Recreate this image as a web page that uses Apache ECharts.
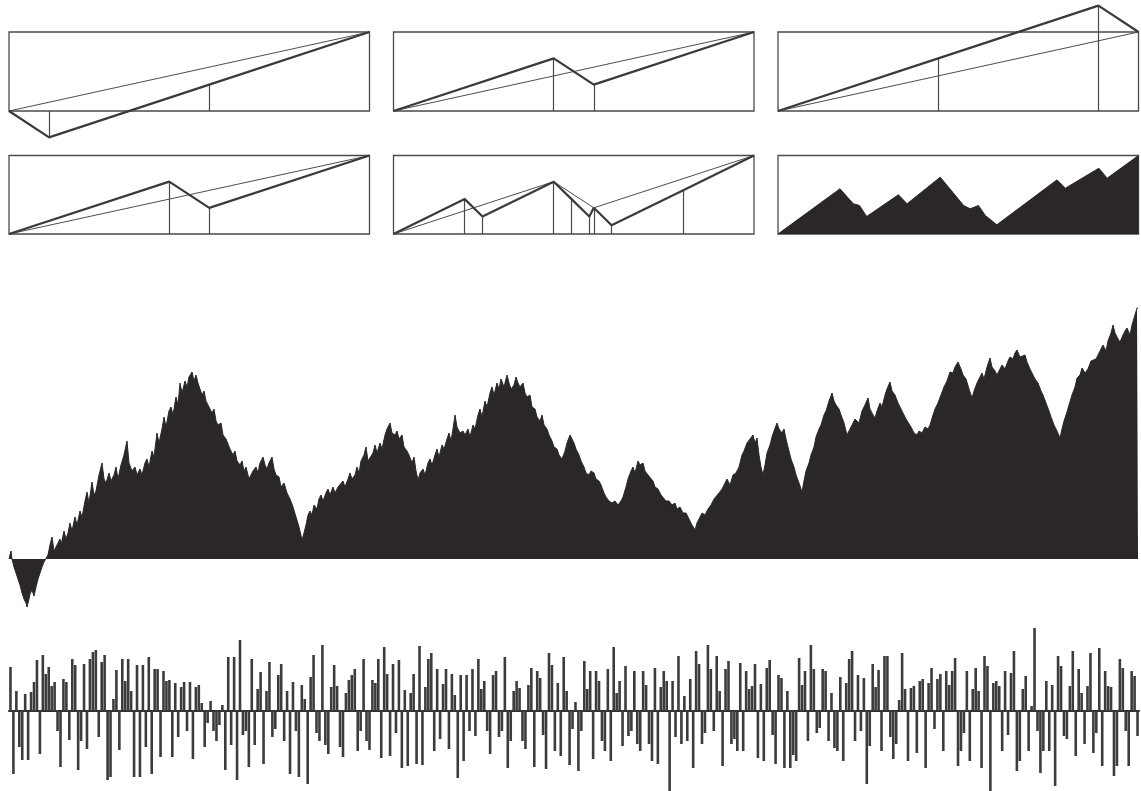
<!DOCTYPE html>
<html>
<head>
<meta charset="utf-8">
<script src="https://cdn.jsdelivr.net/npm/echarts@6/dist/echarts.min.js"></script>
<style>
html, body { margin: 0; padding: 0; background: #ffffff; }
#chart { width: 1141px; height: 791px; }
</style>
</head>
<body>
<div id="chart"></div>
<script>
// Brownian "cartoon" construction: each stage is a polyline [time, value],
// time and value as fractions of the panel box (0..1).
const initiator = [[0, 0], [1, 1]];
const generatorDownFirst = [[0, 0], [1/9, -1/3], [5/9, 1/3], [1, 1]];
const generatorStandard = [[0, 0], [4/9, 2/3], [5/9, 1/3], [1, 1]];
const generatorDownLast = [[0, 0], [4/9, 2/3], [8/9, 4/3], [1, 1]];
const secondStage = [[0, 0], [16/81, 4/9], [20/81, 2/9], [4/9, 2/3], [40/81, 4/9],
  [44/81, 2/9], [5/9, 1/3], [49/81, 1/9], [65/81, 5/9], [1, 1]];
const laterStage = [[0, 0], [0.172, 0.576], [0.209, 0.385], [0.226, 0.363], [0.246, 0.223],
  [0.334, 0.5], [0.358, 0.385], [0.45, 0.724], [0.515, 0.363], [0.533, 0.321], [0.556, 0.363],
  [0.575, 0.236], [0.607, 0.117], [0.774, 0.69], [0.797, 0.583], [0.89, 0.838], [0.913, 0.711], [1, 1]];

// Long cartoon path: [time, height]
const mountainPath = [
  [0,0],[2,8],[3,0],[5,-8],[7,-14],[9,-20],[11,-26],[13,-34],[15,-40],[17,-44],[18,-48],[20,-40],[21,-35],
  [23,-31],[24,-33],[25,-37],[27,-28],[29,-20],[31,-14],[33,-8],[35,-3],[37,-1],
  [39,4],[41,14],[43,22],[45,8],[47,6],[49,16],[51,20],[52,14],[55,28],[57,20],[59,26],[61,36],[63,28],[66,42],
  [68,34],[71,48],[73,42],[76,58],[78,67],[80,56],[83,77],[85,64],[87,68],[90,84],[93,96],[95,80],[97,76],
  [100,86],[102,78],[105,84],[107,92],[109,80],[112,94],[115,104],[118,118],[120,96],[123,88],[126,92],[128,84],
  [131,90],[133,84],[136,96],[138,100],[140,92],[143,108],[145,102],[148,126],[150,116],[153,130],[155,142],
  [157,132],[160,148],[162,152],[164,144],[167,162],[169,154],[171,176],[173,166],[176,178],[178,172],[180,182],
  [183,187],[185,178],[187,184],[189,176],[191,174],[193,164],[195,168],[197,158],[199,160],[201,150],[203,146],
  [205,150],[207,138],[209,134],[212,136],[214,124],[217,120],[219,122],[221,110],[224,104],[226,108],[228,98],
  [231,94],[233,98],[235,88],[237,92],[240,80],[242,78],[244,88],[247,92],[249,86],[251,96],[254,102],[256,94],
  [258,90],[260,96],[263,102],[265,90],[267,84],[270,82],[272,72],[275,76],[278,66],[281,60],[284,52],[287,42],
  [290,32],[293,19],[295,26],[297,34],[299,44],[301,48],[303,44],[305,54],[308,50],[310,60],[312,64],[314,58],
  [317,66],[319,70],[321,64],[324,72],[326,66],[329,72],[331,70],[334,78],[336,72],[339,80],[341,86],[343,80],
  [346,84],[348,92],[350,86],[352,98],[355,104],[357,112],[359,98],[361,100],[364,106],[366,114],[368,106],
  [371,116],[373,110],[376,124],[378,130],[381,136],[383,126],[386,124],[388,128],[390,120],[393,124],[395,112],
  [398,108],[400,104],[403,96],[405,102],[407,88],[409,79],[411,86],[414,90],[416,84],[419,96],[421,100],
  [423,94],[426,104],[428,110],[430,102],[433,114],[435,110],[438,120],[440,126],[442,118],[444,130],[446,144],
  [448,132],[451,126],[454,128],[456,124],[459,130],[461,122],[464,134],[466,130],[469,144],[471,150],[473,142],
  [476,158],[478,152],[481,166],[483,172],[485,164],[488,176],[490,170],[492,180],[495,172],[498,184],[500,176],
  [502,170],[505,174],[507,182],[509,176],[511,172],[514,176],[516,166],[518,162],[521,164],[523,152],[526,150],
  [528,142],[531,138],[533,144],[535,134],[538,130],[540,124],[543,118],[545,112],[548,110],[550,104],[553,100],
  [556,108],[558,116],[561,124],[563,126],[565,116],[567,110],[570,104],[572,98],[575,92],[577,86],[580,84],
  [582,88],[585,86],[587,80],[590,78],[592,74],[595,66],[597,62],[600,58],[603,56],[606,58],[609,54],[612,58],
  [614,62],[617,72],[619,80],[622,88],[624,92],[626,86],[629,98],[631,94],[634,96],[636,88],[639,84],[641,86],
  [644,78],[646,72],[649,70],[652,64],[654,66],[657,58],[660,58],[663,54],[666,56],[668,50],[671,52],[674,46],
  [677,46],[680,40],[683,34],[686,29],[688,36],[691,42],[693,46],[696,44],[699,50],[702,54],[705,60],[707,58],
  [710,66],[713,70],[716,76],[718,80],[721,74],[724,84],[727,86],[730,92],[733,104],[735,108],[738,116],
  [741,120],[744,124],[746,116],[748,121],[750,104],[752,92],[754,84],[756,94],[758,106],[761,114],[763,122],
  [765,128],[768,136],[770,130],[773,126],[775,130],[777,120],[780,108],[782,100],[785,92],[787,84],[790,76],
  [793,67],[795,78],[797,88],[800,96],[802,104],[805,112],[807,122],[810,130],[812,134],[815,144],[817,148],
  [820,158],[823,166],[825,158],[827,154],[830,150],[832,144],[835,136],[838,124],[840,128],[843,134],[846,140],
  [848,141],[850,136],[853,148],[856,154],[859,161],[861,150],[864,144],[866,141],[868,148],[871,156],[873,152],
  [876,164],[878,170],[881,177],[883,168],[886,164],[889,156],[891,154],[894,146],[897,140],[899,138],[902,132],
  [905,126],[908,124],[910,128],[913,126],[916,132],[919,130],[921,134],[924,144],[926,150],[929,156],[932,164],
  [935,172],[938,178],[941,187],[944,186],[946,192],[949,197],[952,190],[954,184],[957,180],[960,170],[963,161],
  [965,168],[968,176],[970,180],[973,186],[975,180],[978,192],[981,201],[983,192],[986,188],[988,184],[991,190],
  [993,194],[996,190],[999,198],[1001,202],[1004,200],[1006,206],[1008,209],[1011,202],[1013,200],[1016,204],
  [1018,197],[1021,190],[1023,188],[1026,180],[1029,176],[1032,168],[1034,164],[1037,156],[1040,148],[1042,142],
  [1045,134],[1048,128],[1051,121],[1053,130],[1055,138],[1058,147],[1060,154],[1063,164],[1066,172],[1068,181],
  [1071,184],[1073,191],[1076,186],[1079,190],[1082,198],[1084,196],[1087,200],[1089,204],[1092,210],[1094,214],
  [1097,208],[1099,218],[1102,226],[1104,234],[1106,226],[1109,220],[1111,217],[1114,224],[1116,228],[1118,231],
  [1121,224],[1123,234],[1126,244],[1128,251],[1129,251]
];

// Increments of the path over equal time steps
const increments = [
  44, -63, 20, -36, -49, 17, -49, 19, 29, 51, -43, 56, 37, 44, 25, 29, -20, -56, 32, 29, -29, 52, 46, -59, -30,
  47, -38, 52, 59, 61, -26, 49, 56, -69, -66, 12, 41, -39, 52, 30, 52, 20, -66, 46, -66, 46, -36, 54, -63, 42,
  42, -46, 40, 30, 31, -46, 28, -26, 24, 29, -20, 29, -48, 24, 26, 8, -36, -12, 10, -20, -30, -14, 6, -59, 54,
  -34, 54, -69, 71, -24, -20, -56, 52, -34, 22, 39, -53, 20, 49, -26, -18, 36, 47, -30, 20, -63, 29, -20, -66, 26,
  12, -73, 34, 56, -22, -30, 66, -34, -43, 24, 46, 25, -36, -46, 18, 31, 36, 42, -40, -20, 52, -30, -39, 31, 28,
  52, -47,
  64, 37, -45, 47, -22, 51, -57, 21, -55, 18, 37, -53, 65, -54, 24, 52, 58, -40, 42, -28, 27, 42, -38, 37, 16,
  -67, 36, -50, 36, -20, 42, -25, 52, 22, 30, -20, -43, 36, 40, -26, -20, 54, -57, -30, 20, 30, 23, -30, -38, 26,
  43, -56, 40, 33, -24, -58, 58, 46, -40, 28, -45, 54, 20, -54, -18, 9, -60, -20, 50, 22, 40, -48, 40, 30, -30,
  -40, 42, -50, 64, 18, 30, -35, 45, -25, -20, 40, -33, -40, 40, 26, -33, -50, 43, -53, 24, 40, 30, -80, 30, -26,
  55, -33, 15, -30, 32, -57, 60, 47, -33, -22, 66, 42, -20, 55, 20, -55, 42, 50, -33, -28, -40, 48, -40, 40, 22,
  25, 47, -47,
  27, -50, 43, 51, -24, -53, 36, 33, -57, 20, -57, -44, -50, 53, 26, 40, -30, 66, 42, -22, -17, 42, 40, -30, 18,
  -37, -40, 34, -50, 28, 52, 60, -30, 36, -20, 33, -73, -35, 47, 24, 41, -40, 55, 55, -26, -48, -33, 11, 58, 22,
  -50, 23, 25, -42, 30, 32, -57, 28, 43, -18, 32, 37, -40, 40, 26, 40, 53, -55, -40, -22, 40, -50, 22, 43, 20,
  -57, 55, 45, -80, 28, 30, 25, -40, 40, -24, 38, 60, -60, -50, 22, 35, -40, 5, 83, -20, -62, -40, 30, -40, 26,
  -75, 55, 45, -25, -28, 25, 60, -45, 42, 18, -33, 25, 58, -42, -22, 63, -55, 40, 25, 24, -65, -55, 52, 43, -20,
  -55, 40, 35, -25
];

const INK = '#2b2627';
const LINE = '#3a3a3a';

// Six small construction panels
const panels = [
  { thin: initiator, thick: generatorDownFirst },
  { thin: initiator, thick: generatorStandard },
  { thin: initiator, thick: generatorDownLast },
  { thin: initiator, thick: generatorStandard },
  { thin: generatorStandard, thick: secondStage },
  { fill: laterStage }
];
const panelLeft = [9, 393.5, 778];
const panelTop = [32, 155.5];
const panelHeight = [79, 78.5];

const grids = [], xAxes = [], yAxes = [], series = [];
panels.forEach(function (p, i) {
  const c = i % 3, r = Math.floor(i / 3);
  grids.push({ left: panelLeft[c], top: panelTop[r], width: 360.5, height: panelHeight[r],
    show: true, borderColor: '#4a4a4a', borderWidth: 1.3, backgroundColor: 'transparent' });
  xAxes.push({ gridIndex: i, type: 'value', min: 0, max: 1, show: false });
  yAxes.push({ gridIndex: i, type: 'value', min: 0, max: 1, show: false });
  if (p.fill) {
    series.push({ type: 'line', xAxisIndex: i, yAxisIndex: i, data: p.fill, symbol: 'none',
      lineStyle: { color: INK, width: 1 }, areaStyle: { color: INK, opacity: 1 }, clip: false });
    return;
  }
  series.push({ type: 'line', xAxisIndex: i, yAxisIndex: i, data: p.thin, symbol: 'none',
    lineStyle: { color: '#4d4d4d', width: 1 }, clip: false, z: 2 });
  series.push({ type: 'line', xAxisIndex: i, yAxisIndex: i, data: p.thick, symbol: 'none',
    lineStyle: { color: LINE, width: 2.2 }, clip: false, z: 3 });
  series.push({ type: 'lines', coordinateSystem: 'cartesian2d', xAxisIndex: i, yAxisIndex: i, clip: false,
    lineStyle: { color: '#4a4a4a', width: 1.2, opacity: 1 }, z: 2,
    data: p.thick.slice(1, -1).map(function (pt) { return { coords: [[pt[0], 0], [pt[0], pt[1]]] }; }) });
});

// Long path, filled down to its starting level
grids.push({ left: 9, top: 299, width: 1129, height: 310 });
xAxes.push({ gridIndex: 6, type: 'value', min: 0, max: 1129, show: false });
yAxes.push({ gridIndex: 6, type: 'value', min: -50, max: 260, show: false });
series.push({ type: 'line', xAxisIndex: 6, yAxisIndex: 6, symbol: 'none', data: mountainPath,
  lineStyle: { color: INK, width: 1 }, areaStyle: { color: INK, opacity: 1 } });

// Increments as bars
grids.push({ left: 9, top: 626, width: 1130, height: 165 });
xAxes.push({ gridIndex: 7, type: 'category', data: increments.map(function (v, k) { return String(k); }),
  axisLine: { show: true, onZero: true, lineStyle: { color: '#2f2f2f', width: 2 } },
  axisTick: { show: false }, axisLabel: { show: false }, splitLine: { show: false } });
yAxes.push({ gridIndex: 7, type: 'value', min: -80, max: 85, show: false });
series.push({ type: 'bar', xAxisIndex: 7, yAxisIndex: 7, data: increments, barWidth: 2.6,
  itemStyle: { color: '#3c3c3c' } });

const chart = echarts.init(document.getElementById('chart'), null, { renderer: 'canvas' });
chart.setOption({
  backgroundColor: '#ffffff',
  animation: false,
  grid: grids,
  xAxis: xAxes,
  yAxis: yAxes,
  series: series
});
</script>
</body>
</html>
